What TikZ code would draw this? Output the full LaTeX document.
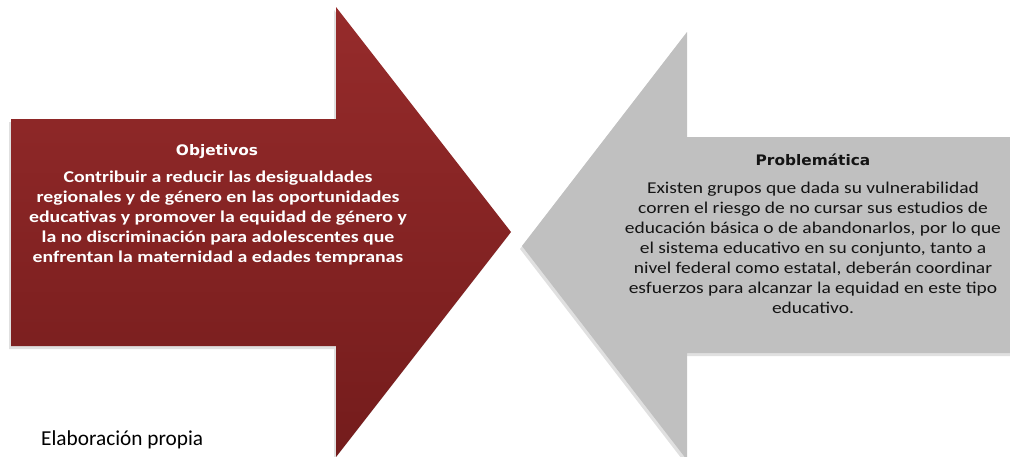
\documentclass[tikz,border=0pt]{standalone}
\usepackage{fontspec}
\setmainfont{Carlito}
\newfontfamily\titlefont[FakeStretch=1.06]{DejaVu Sans}
\newfontfamily\redbodyfont[FakeStretch=1.2]{Carlito}
\newfontfamily\graybodyfont[FakeStretch=1.18]{Carlito}
\definecolor{redtop}{HTML}{962B2B}
\definecolor{redbot}{HTML}{741C1C}
\definecolor{grayfill}{HTML}{C0C0C0}
\definecolor{graytext}{HTML}{141414}
\tikzset{
  titletext/.style={inner sep=0pt, font=\titlefont\bfseries\fontsize{14.5}{17}\selectfont},
  bodytext/.style={inner sep=0pt, align=center},
  shadowfill/.style={fill=black, opacity=0.12}
}
\begin{document}
\begin{tikzpicture}[x=1pt,y=-1pt]
\useasboundingbox (0,0) rectangle (1010,456);
\begin{scope}
\clip (0,0) rectangle (1010,456);
% shadows
\fill[shadowfill] (9,122) -- (334,122) -- (334,10) -- (509,235) -- (334,460) -- (334,349) -- (9,349) -- cycle;
\fill[shadowfill] (1015,140) -- (685,140) -- (685,35) -- (520,249) -- (685,463) -- (685,356) -- (1015,356) -- cycle;
% red arrow
\shade[top color=redtop, bottom color=redbot] (11,119) -- (336,119) -- (336,7) -- (511,232) -- (336,457) -- (336,346) -- (11,346) -- cycle;
% gray arrow
\fill[grayfill] (1015,137) -- (687,137) -- (687,32) -- (522,246) -- (687,460) -- (687,353) -- (1015,353) -- cycle;
\end{scope}
\node[titletext, text=white] (objt) at (217,152) {Objetivos};
\node[bodytext, text=white, font=\redbodyfont\bfseries\fontsize{16.5}{20}\selectfont] (objb) at (218,218.5) {Contribuir a reducir las desigualdades\\regionales y de género en las oportunidades\\educativas y promover la equidad de género y\\la no discriminación para adolescentes que\\enfrentan la maternidad a edades tempranas};
\node[titletext, text=graytext] (probt) at (813,160) {Problemática};
\node[bodytext, text=graytext, font=\graybodyfont\fontsize{16.5}{20}\selectfont] (probb) at (813,248) {Existen grupos que dada su vulnerabilidad\\corren el riesgo de no cursar sus estudios de\\educación básica o de abandonarlos, por lo que\\el sistema educativo en su conjunto, tanto a\\nivel federal como estatal, deberán coordinar\\esfuerzos para alcanzar la equidad en este tipo\\educativo.};
\node[inner sep=0pt, anchor=west, font=\fontsize{21.3}{25}\selectfont] (elab) at (41,440) {Elaboración propia};
\end{tikzpicture}
\end{document}
